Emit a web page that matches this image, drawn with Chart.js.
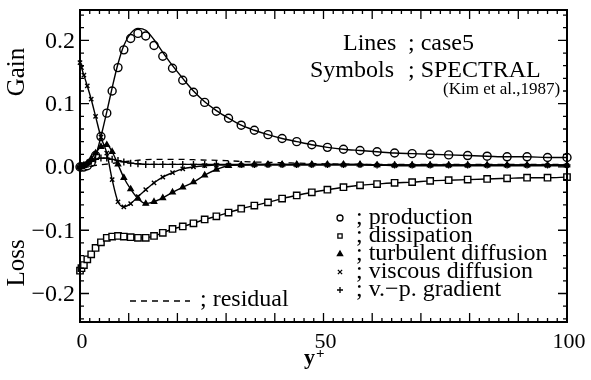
<!DOCTYPE html>
<html>
<head>
<meta charset="utf-8">
<script src="https://cdn.jsdelivr.net/npm/chart.js@4/dist/chart.umd.min.js"></script>
<style>
  html, body { margin: 0; padding: 0; background: #fff; }
</style>
</head>
<body>
<canvas id="budgetChart" width="591" height="380"></canvas>
<script>
// wall distance y+ of the sample points
const yPlus = [0, 0.3, 0.8, 1.5, 2.3, 3.2, 4.3, 5.5, 6.6, 7.8, 9.0, 10.4, 11.9, 13.5, 15.2, 17.0, 19.0, 21.1, 23.3, 25.6,
  28.0, 30.5, 33.1, 35.8, 38.6, 41.5, 44.5, 47.6, 50.8, 54.1, 57.5, 61.0, 64.6, 68.2, 71.9, 75.7, 79.6, 83.6, 87.7, 91.8, 96.0, 100];

// SPECTRAL (symbols)
const production = [0, 0, 0, 0.002, 0.007, 0.018, 0.048, 0.085, 0.12, 0.157, 0.185, 0.203, 0.211, 0.207, 0.192, 0.175, 0.156, 0.137, 0.118, 0.102,
  0.088, 0.077, 0.066, 0.058, 0.051, 0.045, 0.040, 0.035, 0.031, 0.028, 0.026, 0.024, 0.022, 0.021, 0.020, 0.019, 0.018, 0.017, 0.016, 0.016, 0.015, 0.015];
// case5 (line) for production
const productionCase5 = [0, 0, 0, 0.002, 0.007, 0.018, 0.048, 0.087, 0.125, 0.163, 0.192, 0.211, 0.219, 0.216, 0.201, 0.181, 0.160, 0.140, 0.120, 0.103,
  0.089, 0.077, 0.066, 0.058, 0.051, 0.045, 0.040, 0.035, 0.031, 0.028, 0.026, 0.024, 0.022, 0.021, 0.020, 0.019, 0.018, 0.017, 0.016, 0.016, 0.015, 0.015];
const dissipation = [-0.164, -0.160, -0.155, -0.146, -0.138, -0.128, -0.119, -0.112, -0.110, -0.109, -0.110, -0.111, -0.112, -0.112, -0.109, -0.104, -0.098, -0.094, -0.089, -0.083,
  -0.078, -0.072, -0.066, -0.061, -0.056, -0.050, -0.045, -0.040, -0.036, -0.032, -0.029, -0.027, -0.025, -0.024, -0.022, -0.021, -0.020, -0.019, -0.018, -0.017, -0.017, -0.016];
const turbDiffusion = [0, 0, 0.002, 0.006, 0.013, 0.022, 0.032, 0.035, 0.024, 0.004, -0.017, -0.035, -0.050, -0.058, -0.055, -0.049, -0.040, -0.032, -0.024, -0.013,
  -0.004, 0.002, 0.003, 0.004, 0.004, 0.004, 0.004, 0.004, 0.004, 0.004, 0.004, 0.003, 0.003, 0.003, 0.003, 0.003, 0.003, 0.003, 0.003, 0.003, 0.003, 0.003];
const viscDiffusion = [0.165, 0.157, 0.145, 0.128, 0.107, 0.080, 0.047, 0.022, -0.020, -0.055, -0.063, -0.058, -0.047, -0.036, -0.025, -0.016, -0.009, -0.003, 0, 0.002,
  0.003, 0.003, 0.003, 0.003, 0.003, 0.003, 0.003, 0.003, 0.003, 0.003, 0.003, 0.003, 0.002, 0.002, 0.002, 0.002, 0.002, 0.002, 0.002, 0.002, 0.002, 0.002];
const vpGradient = [0, 0.001, 0.003, 0.006, 0.009, 0.012, 0.014, 0.014, 0.012, 0.010, 0.008, 0.006, 0.005, 0.004, 0.004, 0.004, 0.004, 0.004, 0.004, 0.004,
  0.004, 0.004, 0.004, 0.004, 0.004, 0.004, 0.004, 0.004, 0.004, 0.004, 0.004, 0.003, 0.003, 0.003, 0.003, 0.003, 0.003, 0.003, 0.003, 0.003, 0.003, 0.003];

// residual (dashed)
const residualYPlus = [0, 5, 10, 15, 20, 25, 30, 35, 40, 50, 60, 80, 100];
const residual = [0, 0.004, 0.009, 0.012, 0.012, 0.011, 0.010, 0.008, 0.007, 0.005, 0.004, 0.004, 0.004];

const xTicks = [0, 50, 100];
const yTicks = [-0.2, -0.1, 0, 0.1, 0.2];
const yTickLabels = ['\u22120.2', '\u22120.1', '0.0', '0.1', '0.2'];

const legendNames = ['production', 'dissipation', 'turbulent diffusion', 'viscous diffusion', 'v.\u2212p. gradient'];
const legendStyles = ['circle', 'rect', 'triangle', 'crossRot', 'cross'];

const pts = (xs, ys) => xs.map((v, i) => ({ x: v, y: ys[i] }));

function series(label, ys, style, r, fill, showLine) {
  return {
    label,
    data: pts(yPlus, ys),
    showLine,
    borderColor: '#000',
    borderWidth: 1.4,
    pointStyle: style,
    pointRadius: r,
    pointBorderWidth: 1.4,
    pointBorderColor: '#000',
    pointBackgroundColor: fill,
    cubicInterpolationMode: 'monotone',
    clip: 6
  };
}

const serif = '"Liberation Serif", "DejaVu Serif", serif';

const frame = {
  id: 'frame',
  afterDraw(chart) {
    const { ctx, chartArea: a, scales: { x, y } } = chart;
    ctx.save();
    ctx.strokeStyle = '#000';
    ctx.fillStyle = '#000';
    ctx.lineWidth = 2;
    ctx.strokeRect(a.left, a.top, a.right - a.left, a.bottom - a.top);

    // inward ticks on all four sides
    ctx.lineWidth = 1.3;
    ctx.beginPath();
    for (let v = 0; v <= 100; v += 2) {
      const px = x.getPixelForValue(v);
      const len = v % 10 === 0 ? 9 : 4;
      ctx.moveTo(px, a.bottom); ctx.lineTo(px, a.bottom - len);
      ctx.moveTo(px, a.top); ctx.lineTo(px, a.top + len);
    }
    for (let i = -12; i <= 12; i++) {
      const py = y.getPixelForValue(i * 0.02);
      const len = i % 5 === 0 ? 9 : 4;
      ctx.moveTo(a.left, py); ctx.lineTo(a.left + len, py);
      ctx.moveTo(a.right, py); ctx.lineTo(a.right - len, py);
    }
    ctx.stroke();

    // tick labels
    ctx.font = '24px ' + serif;
    ctx.textBaseline = 'middle';
    ctx.textAlign = 'right';
    yTicks.forEach((v, i) => ctx.fillText(yTickLabels[i], a.left - 5, y.getPixelForValue(v) + 1));
    ctx.font = '22px ' + serif;
    ctx.textAlign = 'center';
    ctx.textBaseline = 'alphabetic';
    xTicks.forEach(v => ctx.fillText(String(v), x.getPixelForValue(v) + 2, 348));

    // x title y+
    ctx.font = 'bold 22px ' + serif;
    ctx.textAlign = 'left';
    ctx.fillText('y', 304, 364);
    ctx.font = 'bold 15px ' + serif;
    ctx.fillText('+', 316, 358);

    // y titles
    ctx.font = '25px ' + serif;
    ctx.textAlign = 'center';
    ctx.textBaseline = 'middle';
    [['Gain', 72], ['Loss', 263]].forEach(([t, cy]) => {
      ctx.save();
      ctx.translate(17, cy);
      ctx.rotate(-Math.PI / 2);
      ctx.fillText(t, 0, 0);
      ctx.restore();
    });

    // notes
    ctx.textBaseline = 'alphabetic';
    ctx.textAlign = 'left';
    ctx.font = '24px ' + serif;
    ctx.fillText('Lines', 343, 50);
    ctx.fillText('; case5', 408, 50);
    ctx.fillText('Symbols', 310, 77);
    ctx.fillText('; SPECTRAL', 408, 77);
    ctx.font = '17px ' + serif;
    ctx.fillText('(Kim et al.,1987)', 443, 94);

    // legend
    ctx.font = '24px ' + serif;
    legendNames.forEach((name, i) => {
      const cy = 218 + i * 18;
      ctx.fillStyle = legendStyles[i] === 'triangle' ? '#000' : '#fff';
      ctx.strokeStyle = '#000';
      ctx.lineWidth = 1.3;
      Chart.helpers.drawPoint(ctx, { pointStyle: legendStyles[i], radius: 3, rotation: 0, borderWidth: 1.3 }, 340, cy);
      ctx.fillStyle = '#000';
      ctx.fillText('; ' + name, 356, cy + 6);
    });
    ctx.lineWidth = 1.3;
    ctx.setLineDash([6, 5]);
    ctx.beginPath();
    ctx.moveTo(130, 301); ctx.lineTo(190, 301);
    ctx.stroke();
    ctx.setLineDash([]);
    ctx.fillText('; residual', 200, 306);
    ctx.restore();
  }
};

new Chart(document.getElementById('budgetChart'), {
  type: 'scatter',
  data: {
    datasets: [
      {
        label: 'residual',
        data: pts(residualYPlus, residual),
        showLine: true,
        borderColor: '#000',
        borderWidth: 1.3,
        borderDash: [6, 5],
        pointRadius: 0,
        cubicInterpolationMode: 'monotone'
      },
      series('v.-p. gradient', vpGradient, 'cross', 3.5, '#000', true),
      series('viscous diffusion', viscDiffusion, 'crossRot', 3, '#000', true),
      series('turbulent diffusion', turbDiffusion, 'triangle', 3, '#000', true),
      series('dissipation', dissipation, 'rect', 4.5, '#fff', true),
      Object.assign(series('production case5', productionCase5, 'circle', 0, '#fff', true), { pointRadius: 0 }),
      series('production', production, 'circle', 4, '#fff', false)
    ]
  },
  options: {
    responsive: false,
    animation: false,
    devicePixelRatio: 1,
    layout: { padding: { left: 80, right: 24, top: 10, bottom: 58 } },
    plugins: { legend: { display: false }, tooltip: { enabled: false } },
    scales: {
      x: { type: 'linear', min: 0, max: 100, display: false },
      y: { type: 'linear', min: -0.245, max: 0.248, display: false }
    }
  },
  plugins: [frame]
});
</script>
</body>
</html>
